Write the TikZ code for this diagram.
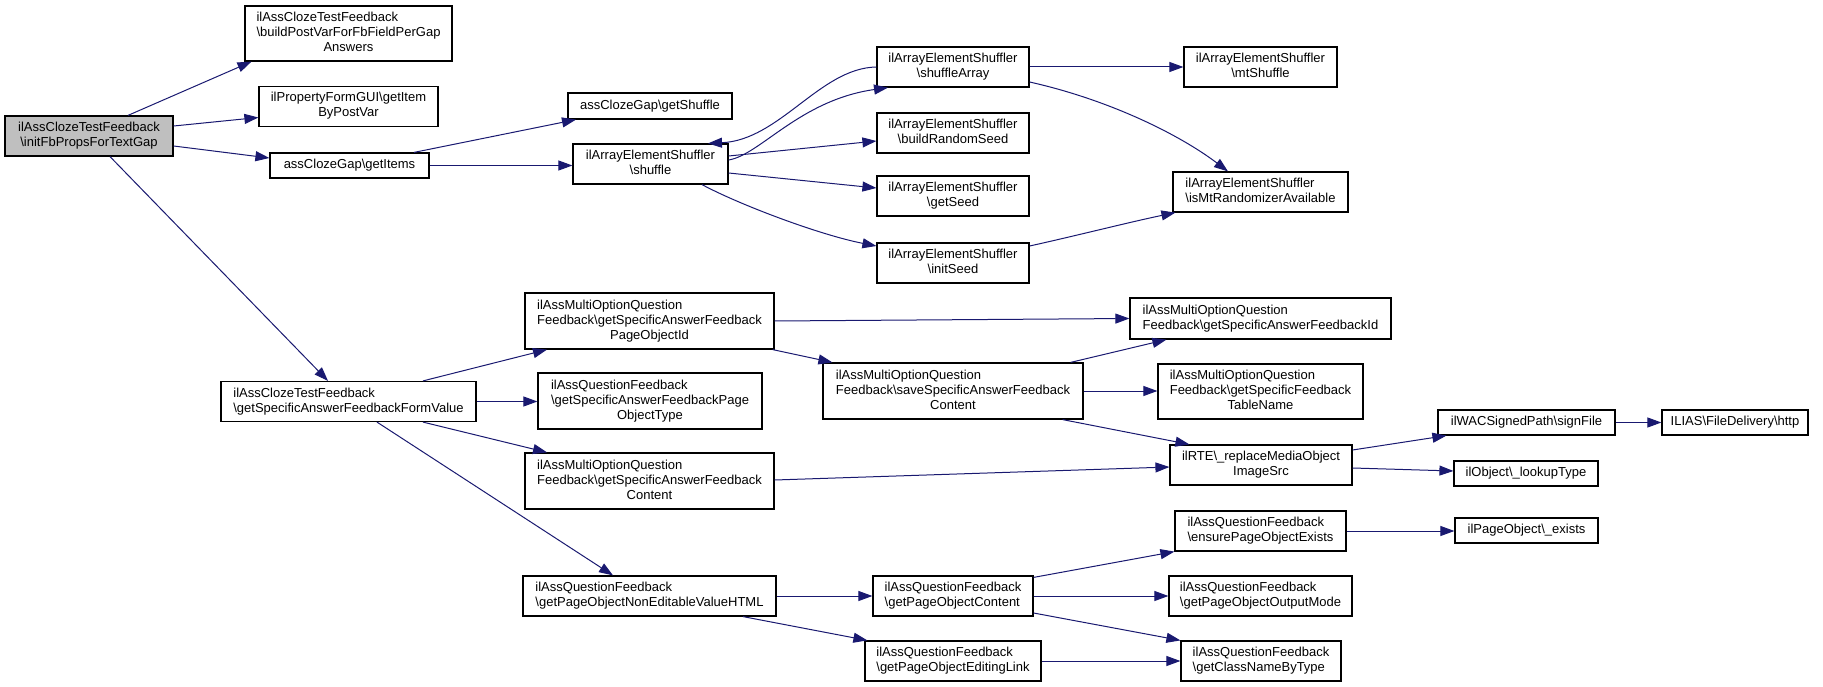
\documentclass[tikz,border=0pt]{standalone}
\usepackage{fontspec}
\setmainfont{Liberation Sans}
\usetikzlibrary{arrows.meta,calc}
\definecolor{edgeblue}{HTML}{191970}
\definecolor{rootgray}{HTML}{BFBFBF}
\newcommand\nodeL[2]{\begin{tabular}{@{}l@{}}#1\\#2\end{tabular}}
\newcommand\nodeC[2]{\begin{tabular}{@{}c@{}}#1\\#2\end{tabular}}
\newcommand\nodeLLC[3]{\begin{tabular}{@{}l@{}}#1\\#2\\\multicolumn{1}{@{}c@{}}{#3}\end{tabular}}
\newcommand\bs{\textbackslash}
\begin{document}
\begin{tikzpicture}[x=1pt,y=-1pt,
  box/.style={draw=black, line width=1.2pt, fill=white, inner sep=0pt, font=\fontsize{13}{15}\selectfont},
  edge/.style={draw=edgeblue, line width=1pt, -{Triangle[length=14pt,width=10pt]}}]
\useasboundingbox (0,0) rectangle (1823,687);
% nodes
\node[box, fill=rootgray, minimum width=168pt, minimum height=40pt] (root) at (89,136) {\nodeC{ilAssClozeTestFeedback}{\bs initFbPropsForTextGap}};
\node[box, minimum width=207pt, minimum height=55pt] (bpv) at (348.5,33.5) {\nodeLLC{ilAssClozeTestFeedback}{\bs buildPostVarForFbFieldPerGap}{Answers}};
\node[box, minimum width=179pt, minimum height=40pt] (gibpv) at (348.5,106.5) {\nodeC{ilPropertyFormGUI\bs getItem}{ByPostVar}};
\node[box, minimum width=159pt, minimum height=25pt] (gitems) at (349.5,165.5) {assClozeGap\bs getItems};
\node[box, minimum width=164pt, minimum height=26pt] (gshuf) at (650,106) {assClozeGap\bs getShuffle};
\node[box, minimum width=155pt, minimum height=40pt] (shuf) at (650.5,164) {\nodeC{ilArrayElementShuffler}{\bs shuffle}};
\node[box, minimum width=152pt, minimum height=40pt] (shufarr) at (953,67) {\nodeC{ilArrayElementShuffler}{\bs shuffleArray}};
\node[box, minimum width=152pt, minimum height=40pt] (brs) at (953,133) {\nodeC{ilArrayElementShuffler}{\bs buildRandomSeed}};
\node[box, minimum width=152pt, minimum height=40pt] (gseed) at (953,196) {\nodeC{ilArrayElementShuffler}{\bs getSeed}};
\node[box, minimum width=152pt, minimum height=40pt] (iseed) at (953,263) {\nodeC{ilArrayElementShuffler}{\bs initSeed}};
\node[box, minimum width=153pt, minimum height=40pt] (mts) at (1260.5,67) {\nodeC{ilArrayElementShuffler}{\bs mtShuffle}};
\node[box, minimum width=175pt, minimum height=40pt] (ismt) at (1260.5,192) {\nodeL{ilArrayElementShuffler}{\bs isMtRandomizerAvailable}};
\node[box, minimum width=255pt, minimum height=40pt] (fv) at (348.5,401.5) {\nodeL{ilAssClozeTestFeedback}{\bs getSpecificAnswerFeedbackFormValue}};
\node[box, minimum width=249pt, minimum height=56pt] (poid) at (649.5,321) {\nodeLLC{ilAssMultiOptionQuestion}{Feedback\bs getSpecificAnswerFeedback}{PageObjectId}};
\node[box, minimum width=224pt, minimum height=56pt] (potype) at (650,401) {\nodeLLC{ilAssQuestionFeedback}{\bs getSpecificAnswerFeedbackPage}{ObjectType}};
\node[box, minimum width=249pt, minimum height=56pt] (cont) at (649.5,481) {\nodeLLC{ilAssMultiOptionQuestion}{Feedback\bs getSpecificAnswerFeedback}{Content}};
\node[box, minimum width=253pt, minimum height=40pt] (nev) at (649.5,596) {\nodeL{ilAssQuestionFeedback}{\bs getPageObjectNonEditableValueHTML}};
\node[box, minimum width=260pt, minimum height=56pt] (save) at (953,391) {\nodeLLC{ilAssMultiOptionQuestion}{Feedback\bs saveSpecificAnswerFeedback}{Content}};
\node[box, minimum width=261pt, minimum height=41pt] (safid) at (1260.5,318.5) {\nodeL{ilAssMultiOptionQuestion}{Feedback\bs getSpecificAnswerFeedbackId}};
\node[box, minimum width=205pt, minimum height=55pt] (tname) at (1260.5,391.5) {\nodeLLC{ilAssMultiOptionQuestion}{Feedback\bs getSpecificFeedback}{TableName}};
\node[box, minimum width=182pt, minimum height=40pt] (rmo) at (1261,465) {\nodeC{ilRTE\bs\_replaceMediaObject}{ImageSrc}};
\node[box, minimum width=177pt, minimum height=25pt] (sign) at (1526.5,422.5) {ilWACSignedPath\bs signFile};
\node[box, minimum width=146pt, minimum height=25pt] (http) at (1735,422.5) {ILIAS\bs FileDelivery\bs http};
\node[box, minimum width=144pt, minimum height=25pt] (lookup) at (1526,473.5) {ilObject\bs\_lookupType};
\node[box, minimum width=171pt, minimum height=40pt] (ensure) at (1260.5,531) {\nodeL{ilAssQuestionFeedback}{\bs ensurePageObjectExists}};
\node[box, minimum width=143pt, minimum height=25pt] (exists) at (1526.5,530.5) {ilPageObject\bs\_exists};
\node[box, minimum width=160pt, minimum height=40pt] (gpoc) at (953,596) {\nodeL{ilAssQuestionFeedback}{\bs getPageObjectContent}};
\node[box, minimum width=183pt, minimum height=40pt] (outm) at (1260.5,596) {\nodeL{ilAssQuestionFeedback}{\bs getPageObjectOutputMode}};
\node[box, minimum width=176pt, minimum height=40pt] (elink) at (953,661) {\nodeL{ilAssQuestionFeedback}{\bs getPageObjectEditingLink}};
\node[box, minimum width=160pt, minimum height=40pt] (cnbt) at (1261,661) {\nodeL{ilAssQuestionFeedback}{\bs getClassNameByType}};
% edges
\draw[edge] ($(root.north)+(39,0)$) -- ($(bpv.south)+(-97,0)$);
\draw[edge] ($(root.east)+(0,-10)$) -- ($(gibpv.west)+(0,11)$);
\draw[edge] ($(root.east)+(0,10)$) -- ($(gitems.west)+(0,-7.5)$);
\draw[edge] ($(root.south)+(21,0)$) -- ($(fv.north)+(-20.5,0)$);
\draw[edge] ($(gitems.north)+(64.5,0)$) -- ($(gshuf.south)+(-74,0)$);
\draw[edge] (gitems.east) -- (gitems.east -| shuf.west);
\draw[edge] ($(shuf.east)+(0,-4)$) .. controls (760,155) and (800,100) .. ($(shufarr.south)+(-65,0)$);
\draw[edge] (shufarr.west) .. controls (820,68) and (780,140) .. ($(shuf.north)+(57.5,0)$);
\draw[edge] ($(shuf.east)+(0,-8)$) -- ($(brs.west)+(0,8)$);
\draw[edge] ($(shuf.east)+(0,9)$) -- ($(gseed.west)+(0,-8)$);
\draw[edge] ($(shuf.south)+(51.5,0)$) .. controls (740,205) and (820,235) .. ($(iseed.west)+(0,-17)$);
\draw[edge] (shufarr.east) -- (mts.west);
\draw[edge] ($(shufarr.east)+(0,15)$) .. controls (1110,100) and (1180,135) .. ($(ismt.north)+(-32.5,0)$);
\draw[edge] ($(iseed.east)+(0,-17)$) .. controls (1075,236) and (1130,222) .. ($(ismt.south west)+(3,0)$);
\draw[edge] ($(fv.north)+(74.5,0)$) -- ($(poid.south)+(-102.5,0)$);
\draw[edge] (fv.east) -- (fv.east -| potype.west);
\draw[edge] ($(fv.south)+(74.5,0)$) -- ($(cont.north)+(-102.5,0)$);
\draw[edge] ($(fv.south)+(28.5,0)$) -- ($(nev.north)+(-36.5,0)$);
\draw[edge] (poid.east) -- (safid.west);
\draw[edge] ($(poid.south east)+(-2,0)$) -- ($(save.north west)+(10,0)$);
\draw[edge] ($(save.north east)+(-13,0)$) -- ($(safid.south west)+(37,0)$);
\draw[edge] (save.east) -- (save.east -| tname.west);
\draw[edge] ($(save.south east)+(-21,0)$) -- ($(rmo.north west)+(20,0)$);
\draw[edge] ($(cont.east)+(0,-1)$) -- ($(rmo.west)+(0,2)$);
\draw[edge] ($(rmo.east)+(0,-15)$) -- ($(sign.south west)+(9,0)$);
\draw[edge] ($(rmo.east)+(0,3)$) -- ($(lookup.west)+(0,-2.5)$);
\draw[edge] (sign.east) -- (http.west);
\draw[edge] (ensure.east) -- (ensure.east -| exists.west);
\draw[edge] (nev.east) -- (gpoc.west);
\draw[edge] ($(nev.south)+(93.5,0)$) -- ($(elink.north west)+(3,0)$);
\draw[edge] ($(gpoc.north east)+(0,2)$) -- (ensure.south west);
\draw[edge] (gpoc.east) -- (outm.west);
\draw[edge] ($(gpoc.east)+(0,17)$) -- (cnbt.north west);
\draw[edge] (elink.east) -- (cnbt.west);
\end{tikzpicture}
\end{document}
